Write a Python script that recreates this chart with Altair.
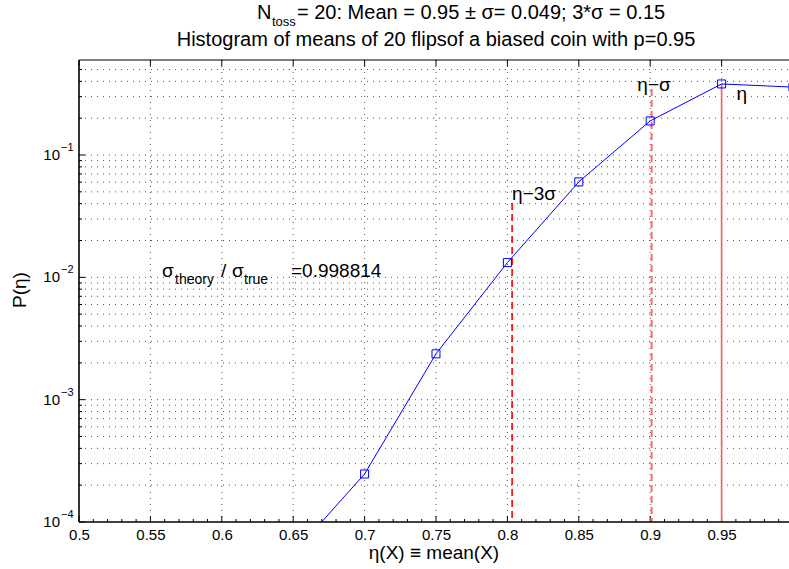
import altair as alt
import pandas as pd

# ---------------- data ----------------
eta_vals = [0.65, 0.70, 0.75, 0.80, 0.85, 0.90, 0.95, 1.00]
p_vals = [5.5e-5, 2.47e-4, 2.37e-3, 1.32e-2, 6.03e-2, 0.190, 0.381, 0.359]

x_ticks = [0.5, 0.55, 0.6, 0.65, 0.7, 0.75, 0.8, 0.85, 0.9, 0.95]
x_minor = [round(0.5 + 0.01 * i, 2) for i in range(1, 50) if i % 5 != 0]
y_decades = [1e-4, 1e-3, 1e-2, 1e-1]
y_exp_labels = ["\u22124", "\u22123", "\u22122", "\u22121"]
y_minor = [m * d for d in y_decades for m in range(2, 10) if m * d <= 0.598]

vline_kind = ["m3s", "ms", "m"]
vline_x = [0.8033, 0.901, 0.95]
vline_top = [0.0406, 0.347, 0.381]

lab_text = ["\u03b7\u22123\u03c3", "\u03b7\u2212\u03c3", "\u03b7"]
lab_x = [0.8033, 0.891, 0.9605]
lab_y = [0.0428, 0.333, 0.282]

title2 = "Histogram of means of 20 flipsof a biased coin with p=0.95"
title1_main = "= 20: Mean = 0.95 \u00b1 \u03c3= 0.049; 3*\u03c3 = 0.15"

# ---------------- layout ----------------
W, H = 710, 462
FONT = "Liberation Sans"
FS = 19
xs = alt.Scale(domain=[0.5, 0.9972], nice=False, zero=False)
ys = alt.Scale(type="log", domain=[1e-4, 0.598], nice=False)

curve = pd.DataFrame({"eta": eta_vals, "p": p_vals})
one = pd.DataFrame({"a": [0]})

GRID = dict(color="#555555", strokeDash=[1, 5], strokeWidth=1)

x_axis = alt.Axis(values=x_ticks, format="~g", domain=False, ticks=False, grid=False,
                  labelFont=FONT, labelFontSize=15, labelColor="black",
                  labelPadding=5, labelFlush=False, labelOverlap=False, title=None)

xgrid = alt.Chart(pd.DataFrame({"v": x_ticks[1:]})).mark_rule(**GRID).encode(
    x=alt.X("v:Q", scale=xs, axis=x_axis), y=alt.value(0), y2=alt.value(H))
ygrid = alt.Chart(pd.DataFrame({"v": y_decades[1:] + y_minor})).mark_rule(**GRID).encode(
    y=alt.Y("v:Q", scale=ys, axis=None), x=alt.value(0), x2=alt.value(W))

tick_style = dict(color="black", strokeWidth=1)
xt_bot = alt.Chart(pd.DataFrame({"v": x_ticks})).mark_rule(**tick_style).encode(
    x=alt.X("v:Q", scale=xs), y=alt.value(H), y2=alt.value(H - 6))
xt_top = alt.Chart(pd.DataFrame({"v": x_ticks})).mark_rule(**tick_style).encode(
    x=alt.X("v:Q", scale=xs), y=alt.value(0), y2=alt.value(6))
xt_minor = alt.Chart(pd.DataFrame({"v": x_minor})).mark_rule(**tick_style).encode(
    x=alt.X("v:Q", scale=xs), y=alt.value(H), y2=alt.value(H - 3))
yt_major = alt.Chart(pd.DataFrame({"v": y_decades})).mark_rule(**tick_style).encode(
    y=alt.Y("v:Q", scale=ys, axis=None), x=alt.value(0), x2=alt.value(6))
yt_minor = alt.Chart(pd.DataFrame({"v": y_minor})).mark_rule(**tick_style).encode(
    y=alt.Y("v:Q", scale=ys, axis=None), x=alt.value(0), x2=alt.value(3))

frame_left = alt.Chart(one).mark_rule(color="black", strokeWidth=1.6).encode(
    x=alt.value(0), y=alt.value(0), y2=alt.value(H))
frame_bot = alt.Chart(one).mark_rule(color="black", strokeWidth=1.6).encode(
    y=alt.value(H), x=alt.value(0), x2=alt.value(W))
frame_top = alt.Chart(one).mark_rule(color="black", strokeWidth=1.2).encode(
    y=alt.value(0), x=alt.value(0), x2=alt.value(W))

vdf = pd.DataFrame({"kind": vline_kind, "x": vline_x, "top": vline_top})
def vline(kind, color, width, dash=None):
    kw = dict(color=color, strokeWidth=width)
    if dash:
        kw["strokeDash"] = dash
    return alt.Chart(vdf).transform_filter(alt.datum.kind == kind).mark_rule(**kw).encode(
        x=alt.X("x:Q", scale=xs),
        y=alt.Y("top:Q", scale=ys, axis=None),
        y2=alt.value(H))

v1 = vline("m3s", "#ff0000", 1.6, [7, 4])
v2 = vline("ms", "#ff6a6a", 2, [7, 4])
v3 = vline("m", "#ee6060", 1.6)

line = alt.Chart(curve).mark_line(color="#0000ff", strokeWidth=1, clip=True).encode(
    x=alt.X("eta:Q", scale=xs),
    y=alt.Y("p:Q", scale=ys, axis=None))
pts = alt.Chart(curve).mark_point(shape="square", size=64, color="#0000ff", filled=False,
                                   strokeWidth=1, opacity=1, clip=True).encode(
    x=alt.X("eta:Q", scale=xs), y=alt.Y("p:Q", scale=ys, axis=None))

labs = alt.Chart(pd.DataFrame({"t": lab_text, "x": lab_x, "y": lab_y})).mark_text(
    align="left", baseline="alphabetic", font=FONT, fontSize=FS, color="black").encode(
    x=alt.X("x:Q", scale=xs), y=alt.Y("y:Q", scale=ys, axis=None), text="t:N")

ydf = pd.DataFrame({"v": y_decades, "e": y_exp_labels})
ylab10 = alt.Chart(ydf).mark_text(align="right", baseline="middle", font=FONT, fontSize=15,
                                  color="black").encode(
    y=alt.Y("v:Q", scale=ys, axis=None), x=alt.value(-19), text=alt.value("10"))
ylabexp = alt.Chart(ydf).mark_text(align="left", baseline="middle", font=FONT, fontSize=11,
                                   color="black", dy=-7).encode(
    y=alt.Y("v:Q", scale=ys, axis=None), x=alt.value(-18), text="e:N")

def txt(s, x, y, size=FS, align="left", baseline="alphabetic", angle=None):
    kw = dict(align=align, baseline=baseline, font=FONT, fontSize=size, color="black")
    if angle is not None:
        kw["angle"] = angle
    return alt.Chart(one).mark_text(**kw).encode(
        x=alt.value(x), y=alt.value(y), text=alt.value(s))

texts = [
    txt("N", 178, -41, size=20),
    txt("toss", 193, -34, size=13),
    txt(title1_main, 218, -41, size=20),
    txt(title2, 357, -14, align="center", size=20),
    txt("\u03b7(X) \u2261 mean(X)", 355, 499, align="center"),
    txt("P(\u03b7)", -59, 230, align="center", baseline="middle", angle=270),
    txt("\u03c3", 83, 217),
    txt("theory", 96, 224, size=14),
    txt("/", 142, 217),
    txt("\u03c3", 153, 217),
    txt("true", 165, 224, size=14),
    txt("=0.998814", 212, 217),
]

chart = alt.layer(
    xgrid, ygrid, xt_bot, xt_top, xt_minor, yt_major, yt_minor,
    v1, v2, v3, line, pts, labs, ylab10, ylabexp, *texts,
    frame_left, frame_bot, frame_top,
).properties(
    width=W, height=H,
    autosize=alt.AutoSizeParams(type="none"),
    padding={"left": 79, "top": 60, "right": 0, "bottom": 47},
    background="white",
).configure_view(stroke=None)

chart.save("out.html", embed_options={"renderer": "svg", "actions": False})
